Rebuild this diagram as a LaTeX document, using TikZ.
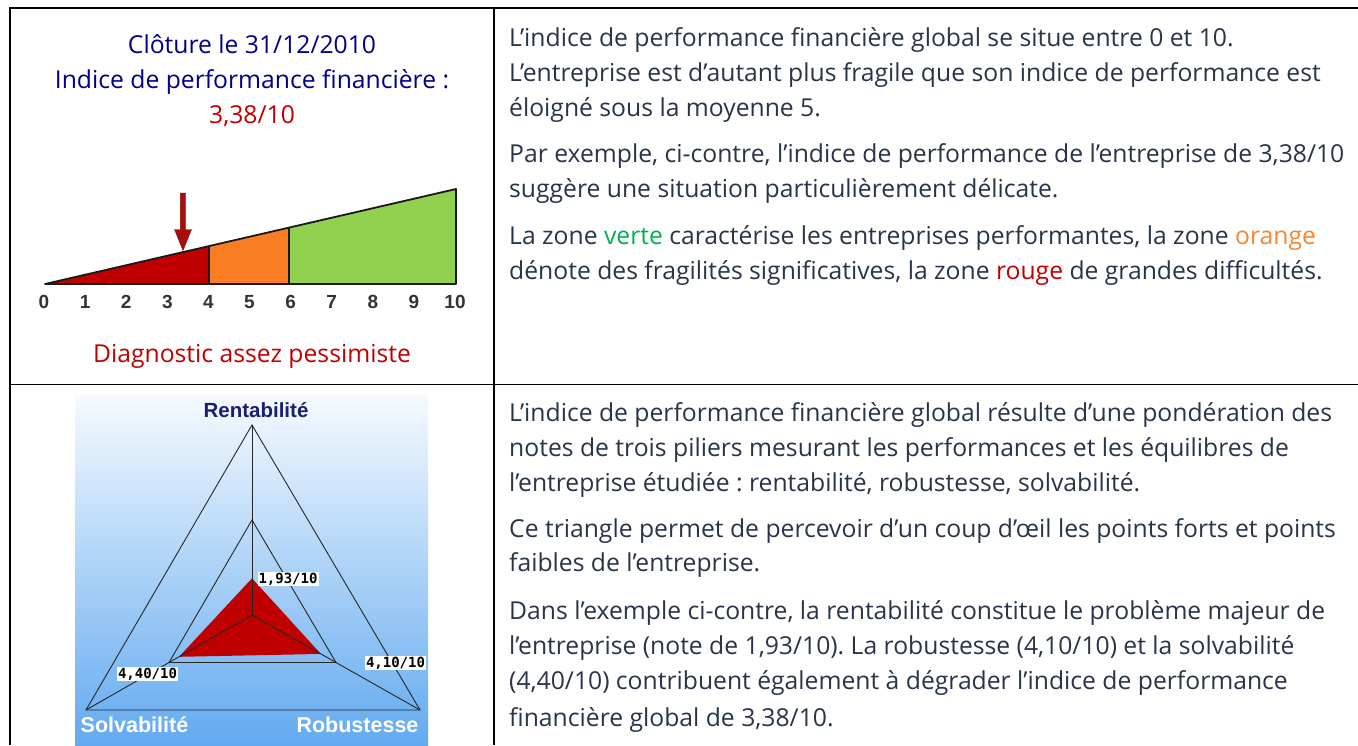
\documentclass[tikz,border=0pt]{standalone}
\usepackage{fontspec}
\usetikzlibrary{calc}
\setmainfont{Open Sans}
\newfontfamily\arialfont{Liberation Sans}
\newfontfamily\pixfont{DejaVu Sans Mono}
\frenchspacing
\definecolor{navy}{RGB}{0,0,140}
\definecolor{bodytxt}{RGB}{40,52,72}
\definecolor{vgreen}{RGB}{0,176,80}
\definecolor{vorange}{RGB}{247,134,46}
\definecolor{gred}{RGB}{192,0,0}
\definecolor{gorange}{RGB}{250,125,35}
\definecolor{ggreen}{RGB}{146,208,80}
\definecolor{arrowred}{RGB}{165,15,15}
\definecolor{skytop}{RGB}{246,250,254}
\definecolor{skymid}{RGB}{188,218,248}
\definecolor{skybot}{RGB}{98,170,240}
\definecolor{labnavy}{RGB}{30,30,110}
\tikzset{
  bodyline/.style={anchor=base west, inner sep=0pt, text=bodytxt, font=\fontsize{24.7}{30}\selectfont},
  titleline/.style={anchor=base, inner sep=0pt, font=\fontsize{24.7}{30}\selectfont},
  tick/.style={anchor=base, inner sep=0pt, font=\arialfont\bfseries\fontsize{19}{21}\selectfont, text=black!80},
  val/.style={fill=white, inner xsep=1pt, inner ysep=1.2pt, font=\pixfont\bfseries\fontsize{14}{15}\selectfont},
  axisline/.style={draw=black!85, line width=0.9pt},
  gauge/.style={draw=black!90, line width=1.8pt, line join=round},
  rule/.style={draw=black, line width=2pt},
  pillar/.style={anchor=base, inner sep=0pt, font=\arialfont\bfseries\fontsize{21.5}{24}\selectfont},
}
\begin{document}
\begin{tikzpicture}[x=1pt,y=-1pt]
\useasboundingbox (0,0) rectangle (1358,745);
% table rules
\draw[rule] (9.5,745) -- (9.5,7.5) -- (1358,7.5);
\draw[rule] (493.5,7.5) -- (493.5,745);
\draw[draw=black, line width=1.5pt] (9.5,384.5) -- (1358,384.5);

% ---------- top left: gauge ----------
\node[titleline, text=navy] (t1) at (252,53) {Clôture le 31/12/2010};
\node[titleline, text=navy] (t2) at (252,88) {Indice de performance financière :};
\node[titleline, text=gred] (t3) at (252,123) {3,38/10};
\node[titleline, text=gred] (diag) at (252,362) {Diagnostic assez pessimiste};

\coordinate (g0) at (45,284);
\coordinate (g4b) at (209,284);
\coordinate (g4t) at (209,246.1);
\coordinate (g6b) at (289,284);
\coordinate (g6t) at (289,227.6);
\coordinate (g10b) at (456,284);
\coordinate (g10t) at (456,189);
\fill[gred] (g0) -- (g4b) -- (g4t) -- cycle;
\fill[gorange] (g4b) -- (g6b) -- (g6t) -- (g4t) -- cycle;
\fill[ggreen] (g6b) -- (g10b) -- (g10t) -- (g6t) -- cycle;
\draw[gauge] (g0) -- (g10b) -- (g10t) -- cycle;
\draw[gauge, line width=1.4pt] (g4b) -- (g4t);
\draw[gauge, line width=1.4pt] (g6b) -- (g6t);
% arrow
\fill[arrowred, draw=arrowred!80!black, line width=0.4pt]
  (180.3,193) -- (185.7,193) -- (185.7,229.5) -- (191.5,229.5) -- (183,250.5) -- (174.5,229.5) -- (180.3,229.5) -- cycle;
% tick labels
\foreach \i in {0,...,10}{
  \node[tick] (tk\i) at ({44+41.1*\i},308) {\i};
}

% ---------- top right: text ----------
\node[bodyline] (a1) at (509,46) {L’indice de performance financière global se situe entre 0 et 10.};
\node[bodyline] (a2) at (509,81) {L’entreprise est d’autant plus fragile que son indice de performance est};
\node[bodyline] (a3) at (509,116) {éloigné sous la moyenne 5.};
\node[bodyline] (a4) at (509,162) {Par exemple, ci-contre, l’indice de performance de l’entreprise de 3,38/10};
\node[bodyline] (a5) at (509,197) {suggère une situation particulièrement délicate.};
\node[bodyline] (a6) at (509,244) {La zone \textcolor{vgreen}{verte} caractérise les entreprises performantes, la zone \textcolor{vorange}{orange}};
\node[bodyline] (a7) at (509,279) {dénote des fragilités significatives, la zone \textcolor{gred}{rouge} de grandes difficultés.};

% ---------- bottom left: triangle ----------
\shade[top color=skytop, middle color=skymid, bottom color=skybot, shading angle=0] (75,395) rectangle (428,745);
\coordinate (A) at (252,425);
\coordinate (B) at (86,710);
\coordinate (C) at (420,710);
\coordinate (O) at (252,615);
\coordinate (Ai) at ($(O)!0.5!(A)$);
\coordinate (Bi) at ($(O)!0.5!(B)$);
\coordinate (Ci) at ($(O)!0.5!(C)$);
\coordinate (R1) at ($(O)!0.193!(A)$);
\coordinate (R2) at ($(O)!0.44!(B)$);
\coordinate (R3) at ($(O)!0.41!(C)$);
\fill[gred] (R1) -- (R3) -- (R2) -- cycle;
\draw[axisline] (A) -- (B) -- (C) -- cycle;
\draw[axisline] (Ai) -- (Bi) -- (Ci) -- cycle;
\draw[axisline] (O) -- (A);
\draw[axisline] (O) -- (B);
\draw[axisline] (O) -- (C);
\node[pillar, text=labnavy, font=\arialfont\bfseries\fontsize{20.5}{24}\selectfont] (rent) at (256,417) {Rentabilité};
\node[pillar, text=white] (solv) at (134.5,732) {Solvabilité};
\node[pillar, text=white] (rob) at (357.5,732) {Robustesse};
\node[val] (v1) at (288,579) {1,93/10};
\node[val] (v2) at (395.5,663) {4,10/10};
\node[val] (v3) at (147.5,674) {4,40/10};

% ---------- bottom right: text ----------
\node[bodyline] (b1) at (509,421) {L’indice de performance financière global résulte d’une pondération des};
\node[bodyline] (b2) at (509,456) {notes de trois piliers mesurant les performances et les équilibres de};
\node[bodyline] (b3) at (509,491) {l’entreprise étudiée : rentabilité, robustesse, solvabilité.};
\node[bodyline] (b4) at (509,537) {Ce triangle permet de percevoir d’un coup d’œil les points forts et points};
\node[bodyline] (b5) at (509,571) {faibles de l’entreprise.};
\node[bodyline] (b6) at (509,619) {Dans l’exemple ci-contre, la rentabilité constitue le problème majeur de};
\node[bodyline] (b7) at (509,654) {l’entreprise (note de 1,93/10). La robustesse (4,10/10) et la solvabilité};
\node[bodyline] (b8) at (509,689) {(4,40/10) contribuent également à dégrader l’indice de performance};
\node[bodyline] (b9) at (509,726) {financière global de 3,38/10.};
\end{tikzpicture}
\end{document}
